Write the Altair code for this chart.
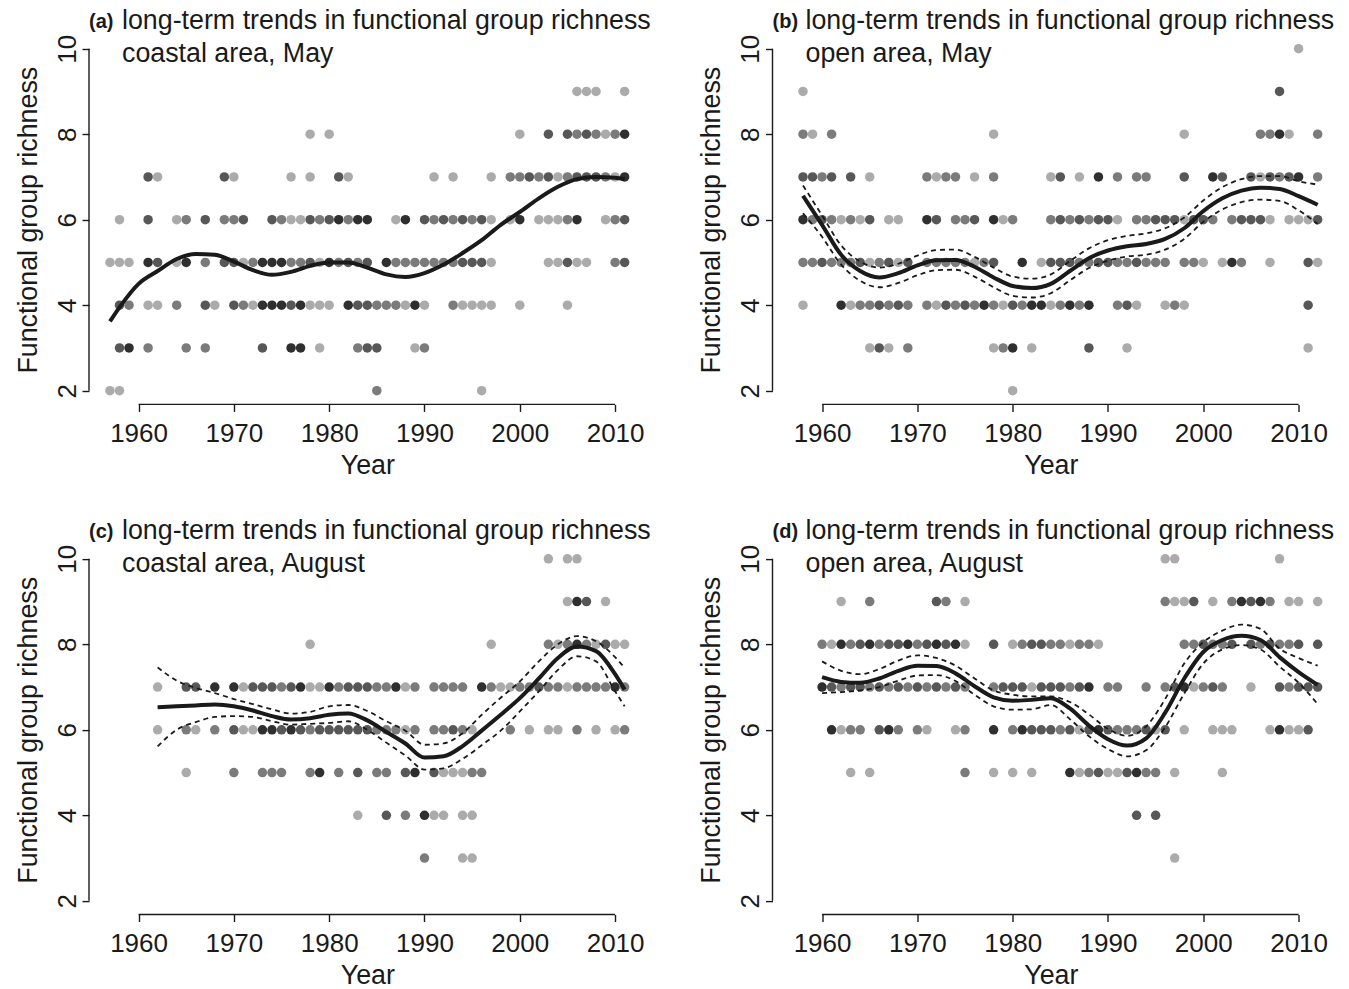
import altair as alt
import pandas as pd

FONT = "Liberation Sans"
INK = "#1a1a1a"

X_TICKS = [1960, 1970, 1980, 1990, 2000, 2010]
Y_TICKS = [2, 4, 6, 8, 10]
X_DOMAIN = [1954.8, 2013.2]
Y_DOMAIN = [1.68, 10.32]

# shade level of each dot: 1 = light ... 4 = darkest
SHADE_LEVELS = [1, 2, 3, 4]
SHADE_COLORS = ["#ababab", "#7b7b7b", "#575757", "#2f2f2f"]

HEADING = "long-term trends in functional group richness"

# ---------------- (a) coastal area, May ----------------
pts_a = {
    9: [(2006, 1), (2007, 1), (2008, 1), (2011, 1)],
    8: [(1978, 1), (1980, 1), (2000, 1), (2003, 3), (2005, 3), (2006, 2), (2007, 3), (2008, 2),
        (2009, 1), (2010, 2), (2011, 4)],
    7: [(1961, 3), (1962, 1), (1969, 3), (1970, 1), (1976, 1), (1978, 1), (1981, 3), (1982, 1),
        (1991, 1), (1993, 1), (1997, 1), (1999, 2), (2000, 2), (2001, 3), (2002, 2), (2003, 3),
        (2004, 1), (2005, 2), (2006, 3), (2007, 3), (2008, 3), (2009, 2), (2010, 1), (2011, 4)],
    6: [(1958, 1), (1961, 3), (1964, 1), (1965, 2), (1967, 3), (1969, 2), (1970, 2), (1971, 3),
        (1974, 3), (1975, 2), (1976, 1), (1977, 1), (1978, 3), (1979, 2), (1980, 3), (1981, 4),
        (1982, 2), (1983, 4), (1984, 4), (1987, 1), (1988, 4), (1990, 3), (1991, 2), (1992, 3),
        (1993, 2), (1994, 3), (1995, 2), (1996, 3), (1997, 1), (1999, 1), (2000, 4), (2002, 1),
        (2003, 1), (2004, 1), (2005, 2), (2006, 4), (2009, 1), (2010, 2), (2011, 3)],
    5: [(1957, 1), (1958, 1), (1959, 1), (1961, 4), (1962, 3), (1964, 1), (1965, 4), (1967, 2),
        (1969, 3), (1970, 3), (1971, 1), (1972, 2), (1973, 4), (1974, 4), (1975, 4), (1976, 2),
        (1977, 2), (1978, 3), (1979, 1), (1980, 4), (1981, 2), (1982, 3), (1983, 2), (1984, 3),
        (1986, 4), (1987, 2), (1988, 2), (1989, 2), (1990, 2), (1991, 2), (1992, 2), (1993, 2),
        (1994, 3), (1995, 3), (1996, 3), (1997, 1), (2003, 1), (2004, 1), (2005, 3), (2006, 1),
        (2007, 1), (2010, 2), (2011, 3)],
    4: [(1958, 3), (1959, 2), (1961, 1), (1962, 1), (1964, 2), (1967, 3), (1968, 1), (1970, 3),
        (1971, 2), (1972, 1), (1973, 4), (1974, 4), (1975, 4), (1976, 3), (1977, 4), (1978, 1),
        (1979, 1), (1980, 1), (1982, 4), (1983, 3), (1984, 3), (1985, 2), (1986, 2), (1987, 2),
        (1988, 1), (1989, 4), (1990, 1), (1993, 2), (1994, 1), (1995, 1), (1996, 1), (1997, 1),
        (2000, 1), (2005, 1)],
    3: [(1958, 3), (1959, 4), (1961, 2), (1965, 2), (1967, 2), (1973, 3), (1976, 4), (1977, 4),
        (1979, 1), (1983, 2), (1984, 3), (1985, 3), (1989, 1), (1990, 2)],
    2: [(1957, 1), (1958, 1), (1985, 2), (1996, 1)],
}
fit_years_a = [1957, 1958, 1960, 1962, 1964, 1966, 1968, 1970, 1972, 1974, 1976, 1978, 1980,
               1982, 1984, 1986, 1988, 1990, 1992, 1994, 1996, 1998, 2000, 2002, 2004, 2006,
               2008, 2010, 2011]
fit_a = [3.62, 3.95, 4.5, 4.8, 5.08, 5.2, 5.18, 5.02, 4.82, 4.71, 4.78, 4.92, 5.0,
         5.0, 4.88, 4.72, 4.66, 4.75, 4.95, 5.22, 5.52, 5.88, 6.18, 6.5, 6.77, 6.95,
         7.0, 6.98, 6.95]

# ---------------- (b) open area, May ----------------
pts_b = {
    10: [(2010, 1)],
    9: [(1958, 1), (2008, 3)],
    8: [(1958, 2), (1959, 1), (1961, 2), (1978, 1), (1998, 1), (2006, 2), (2007, 2), (2008, 4),
        (2009, 1), (2012, 2)],
    7: [(1958, 3), (1959, 3), (1960, 2), (1961, 3), (1963, 3), (1965, 1), (1971, 2), (1972, 1),
        (1973, 2), (1974, 2), (1976, 1), (1978, 2), (1984, 1), (1985, 3), (1987, 1), (1989, 4),
        (1991, 2), (1993, 2), (1994, 2), (1998, 3), (2001, 4), (2002, 3), (2005, 3), (2006, 1),
        (2007, 3), (2008, 2), (2009, 3), (2010, 4), (2012, 2)],
    6: [(1958, 4), (1959, 2), (1960, 3), (1961, 2), (1962, 1), (1963, 2), (1964, 1), (1965, 3),
        (1967, 1), (1968, 1), (1971, 4), (1972, 3), (1974, 2), (1975, 2), (1976, 3), (1978, 4),
        (1979, 1), (1980, 2), (1984, 2), (1985, 3), (1986, 2), (1987, 3), (1988, 2), (1989, 3),
        (1990, 3), (1991, 1), (1993, 2), (1994, 2), (1995, 3), (1996, 3), (1997, 3), (1998, 1),
        (1999, 3), (2000, 3), (2001, 2), (2003, 2), (2004, 3), (2005, 3), (2006, 3), (2007, 1),
        (2009, 1), (2010, 1), (2011, 1), (2012, 3)],
    5: [(1958, 2), (1959, 2), (1960, 3), (1961, 2), (1962, 2), (1963, 2), (1964, 3), (1965, 1),
        (1966, 2), (1967, 3), (1968, 1), (1969, 3), (1971, 2), (1972, 2), (1973, 2), (1974, 2),
        (1975, 2), (1976, 1), (1977, 2), (1978, 3), (1981, 4), (1983, 1), (1984, 3), (1985, 3),
        (1986, 3), (1987, 2), (1988, 2), (1989, 3), (1990, 3), (1991, 2), (1992, 2), (1993, 3),
        (1994, 2), (1995, 2), (1996, 2), (1998, 2), (1999, 2), (2000, 1), (2002, 1), (2003, 4),
        (2004, 2), (2007, 1), (2011, 3), (2012, 1)],
    4: [(1958, 1), (1962, 4), (1963, 1), (1964, 2), (1965, 2), (1966, 3), (1967, 2), (1968, 3),
        (1969, 2), (1971, 2), (1972, 1), (1973, 3), (1974, 2), (1975, 3), (1976, 2), (1977, 4),
        (1978, 2), (1979, 1), (1980, 3), (1981, 2), (1982, 4), (1983, 4), (1984, 1), (1985, 2),
        (1986, 4), (1987, 2), (1988, 4), (1991, 2), (1992, 3), (1993, 1), (1996, 1), (1997, 2),
        (1998, 1), (2011, 3)],
    3: [(1965, 1), (1966, 3), (1967, 1), (1969, 2), (1978, 1), (1979, 2), (1980, 4), (1982, 1),
        (1988, 3), (1992, 1), (2011, 1)],
    2: [(1980, 1)],
}
fit_years_b = [1958, 1960, 1962, 1964, 1966, 1968, 1970, 1972, 1974, 1976, 1978, 1980, 1982,
               1984, 1986, 1988, 1990, 1992, 1994, 1996, 1998, 2000, 2002, 2004, 2006, 2008,
               2010, 2012]
fit_b = [6.56, 5.88, 5.18, 4.8, 4.65, 4.75, 4.93, 5.05, 5.06, 4.9, 4.65, 4.45, 4.4,
         4.5, 4.8, 5.1, 5.28, 5.38, 5.43, 5.55, 5.8, 6.2, 6.5, 6.68, 6.75, 6.72,
         6.55, 6.35]
upper_b = [6.8, 6.1, 5.4, 5.02, 4.88, 4.97, 5.16, 5.29, 5.3, 5.13, 4.88, 4.67, 4.62,
           4.72, 5.03, 5.33, 5.52, 5.62, 5.68, 5.8, 6.05, 6.45, 6.76, 6.95, 7.02, 7.02,
           6.9, 6.82]
lower_b = [6.15, 5.6, 4.95, 4.57, 4.42, 4.52, 4.7, 4.82, 4.83, 4.67, 4.42, 4.22, 4.18,
           4.28, 4.58, 4.87, 5.04, 5.14, 5.18, 5.3, 5.55, 5.95, 6.24, 6.41, 6.47, 6.44,
           6.22, 5.9]

# ---------------- (c) coastal area, August ----------------
pts_c = {
    10: [(2003, 1), (2005, 1), (2006, 1)],
    9: [(2005, 1), (2006, 4), (2007, 3), (2009, 1)],
    8: [(1978, 1), (1997, 1), (2003, 2), (2004, 1), (2005, 2), (2006, 4), (2007, 2), (2008, 1),
        (2009, 3), (2010, 1), (2011, 1)],
    7: [(1962, 1), (1965, 3), (1966, 3), (1968, 4), (1970, 4), (1971, 1), (1972, 3), (1973, 3),
        (1974, 3), (1975, 2), (1976, 3), (1977, 4), (1978, 1), (1979, 1), (1980, 4), (1981, 2),
        (1982, 3), (1983, 3), (1984, 3), (1985, 2), (1986, 2), (1987, 4), (1988, 1), (1989, 2),
        (1991, 2), (1992, 2), (1993, 2), (1994, 2), (1996, 4), (1997, 2), (1998, 1), (1999, 1),
        (2000, 2), (2001, 2), (2002, 3), (2003, 2), (2004, 2), (2005, 1), (2006, 2), (2007, 2),
        (2008, 2), (2009, 2), (2010, 4), (2011, 2)],
    6: [(1962, 1), (1965, 2), (1966, 1), (1968, 2), (1970, 3), (1971, 1), (1972, 1), (1973, 4),
        (1974, 4), (1975, 3), (1976, 4), (1977, 3), (1978, 2), (1979, 3), (1980, 3), (1981, 3),
        (1982, 3), (1983, 3), (1984, 3), (1985, 2), (1986, 2), (1987, 2), (1988, 1), (1989, 2),
        (1991, 2), (1992, 2), (1993, 3), (1994, 2), (1995, 1), (1999, 2), (2001, 1), (2003, 1),
        (2004, 1), (2006, 2), (2008, 1), (2010, 1), (2011, 2)],
    5: [(1965, 1), (1970, 2), (1973, 2), (1974, 2), (1975, 2), (1978, 2), (1979, 4), (1981, 2),
        (1983, 3), (1985, 2), (1986, 2), (1988, 3), (1989, 4), (1991, 3), (1992, 1), (1993, 1),
        (1994, 1), (1995, 2), (1996, 2)],
    4: [(1983, 1), (1986, 3), (1988, 2), (1990, 4), (1991, 1), (1992, 1), (1994, 1), (1995, 1)],
    3: [(1990, 2), (1994, 1), (1995, 1)],
}
fit_years_c = [1962, 1964, 1966, 1968, 1970, 1972, 1974, 1976, 1978, 1980, 1982, 1984, 1986,
               1988, 1990, 1992, 1994, 1996, 1998, 2000, 2002, 2004, 2006, 2008, 2010, 2011]
fit_c = [6.53, 6.55, 6.57, 6.59, 6.55, 6.45, 6.32, 6.24, 6.27, 6.35, 6.38, 6.22, 5.95,
         5.68, 5.35, 5.38, 5.62, 5.98, 6.35, 6.74, 7.2, 7.68, 7.95, 7.84, 7.3, 6.94]
upper_c = [7.46, 7.15, 6.98, 6.86, 6.72, 6.6, 6.48, 6.38, 6.42, 6.55, 6.58, 6.44, 6.2,
           5.98, 5.65, 5.68, 5.92, 6.35, 6.75, 7.13, 7.6, 8.0, 8.19, 8.07, 7.7, 7.45]
lower_c = [5.61, 6.0, 6.18, 6.3, 6.32, 6.3, 6.2, 6.12, 6.14, 6.16, 6.2, 6.0, 5.7,
           5.4, 5.07, 5.1, 5.32, 5.64, 5.98, 6.43, 6.9, 7.4, 7.72, 7.6, 6.9, 6.55]

# ---------------- (d) open area, August ----------------
pts_d = {
    10: [(1996, 1), (1997, 1), (2008, 1)],
    9: [(1962, 1), (1965, 2), (1972, 3), (1973, 2), (1975, 1), (1996, 2), (1997, 1), (1998, 1),
        (1999, 3), (2001, 1), (2003, 2), (2004, 4), (2005, 3), (2006, 4), (2007, 2), (2009, 1),
        (2010, 1), (2012, 1)],
    8: [(1960, 2), (1961, 1), (1962, 4), (1963, 2), (1964, 3), (1965, 4), (1966, 2), (1967, 3),
        (1968, 3), (1969, 4), (1970, 2), (1971, 3), (1972, 4), (1973, 3), (1974, 4), (1975, 1),
        (1978, 3), (1980, 1), (1981, 2), (1982, 3), (1983, 3), (1984, 2), (1985, 2), (1986, 1),
        (1987, 2), (1988, 2), (1989, 1), (1998, 2), (1999, 2), (2000, 3), (2001, 2), (2002, 2),
        (2003, 3), (2005, 3), (2006, 2), (2007, 3), (2008, 2), (2009, 2), (2010, 3), (2012, 3)],
    7: [(1960, 4), (1961, 3), (1962, 2), (1963, 3), (1964, 3), (1965, 2), (1966, 3), (1967, 2),
        (1968, 3), (1969, 2), (1970, 3), (1971, 2), (1972, 3), (1973, 2), (1974, 3), (1975, 2),
        (1978, 2), (1979, 3), (1980, 3), (1981, 3), (1982, 1), (1983, 3), (1984, 3), (1985, 3),
        (1986, 2), (1987, 3), (1988, 4), (1990, 2), (1991, 2), (1994, 2), (1996, 2), (1997, 3),
        (1998, 4), (1999, 1), (2000, 2), (2001, 3), (2002, 2), (2005, 1), (2008, 3), (2009, 2),
        (2010, 3), (2011, 3), (2012, 3)],
    6: [(1961, 4), (1962, 1), (1963, 2), (1964, 2), (1966, 3), (1967, 4), (1968, 2), (1970, 2),
        (1971, 1), (1974, 1), (1975, 2), (1978, 4), (1980, 2), (1981, 4), (1982, 3), (1983, 3),
        (1984, 3), (1985, 2), (1986, 3), (1987, 1), (1988, 3), (1989, 4), (1990, 3), (1991, 2),
        (1992, 2), (1993, 2), (1994, 3), (1995, 1), (1996, 3), (1998, 1), (2001, 1), (2002, 1),
        (2003, 1), (2007, 1), (2008, 4), (2009, 1), (2010, 1), (2011, 3)],
    5: [(1963, 1), (1965, 1), (1975, 2), (1978, 1), (1980, 1), (1982, 1), (1986, 4), (1987, 1),
        (1988, 2), (1989, 3), (1990, 1), (1991, 1), (1992, 3), (1993, 4), (1994, 2), (1995, 2),
        (1997, 1), (2002, 1)],
    4: [(1993, 3), (1995, 3)],
    3: [(1997, 1)],
}
fit_years_d = [1960, 1962, 1964, 1966, 1968, 1970, 1972, 1974, 1976, 1978, 1980, 1982, 1984,
               1986, 1988, 1990, 1992, 1994, 1996, 1998, 2000, 2002, 2004, 2006, 2008, 2010,
               2012]
fit_d = [7.23, 7.12, 7.1, 7.2, 7.38, 7.5, 7.49, 7.32, 7.02, 6.76, 6.68, 6.7, 6.74,
         6.5, 6.1, 5.78, 5.63, 5.8, 6.4, 7.2, 7.82, 8.1, 8.2, 8.1, 7.7, 7.35, 7.05]
upper_d = [7.6, 7.38, 7.3, 7.42, 7.62, 7.74, 7.68, 7.5, 7.2, 6.92, 6.82, 6.78, 6.78,
           6.65, 6.36, 6.02, 5.86, 6.08, 6.72, 7.55, 8.05, 8.32, 8.46, 8.36, 7.9, 7.68, 7.5]
lower_d = [6.86, 6.88, 6.92, 7.0, 7.15, 7.27, 7.28, 7.14, 6.82, 6.55, 6.47, 6.48, 6.58,
           6.25, 5.85, 5.55, 5.38, 5.52, 6.06, 6.85, 7.55, 7.88, 7.98, 7.88, 7.48, 7.1, 6.6]

W, H = 556.6, 369.4

XS = alt.Scale(domain=X_DOMAIN, nice=False, zero=False)
YS = alt.Scale(domain=Y_DOMAIN, nice=False, zero=False)
X_AXIS = alt.Axis(values=X_TICKS, format="d", domain=False, grid=False, tickSize=7,
                  labelPadding=9, labelFontSize=26, title="Year", titlePadding=6,
                  titleFontSize=26.8, labelFlush=False)
Y_AXIS = alt.Axis(values=Y_TICKS, format="d", domain=False, grid=False, tickSize=7,
                  labelAngle=270, labelAlign="center", labelBaseline="bottom",
                  labelPadding=2, labelFontSize=26, title="Functional group richness",
                  titlePadding=12, titleFontSize=26.8, labelFlush=False)


def xenc(field):
    return alt.X(field, scale=XS, axis=X_AXIS)


def yenc(field):
    return alt.Y(field, scale=YS, axis=Y_AXIS)


def panel(tag, subtitle, pts, years, fit, upper=None, lower=None):
    rows = [{"year": y, "richness": r, "shade": s}
            for r, lst in pts.items() for (y, s) in lst]
    pts_df = pd.DataFrame(rows)

    dots = alt.Chart(pts_df).mark_circle(size=90, opacity=1).encode(
        x=xenc("year:Q"),
        y=yenc("richness:Q"),
        color=alt.Color("shade:O", scale=alt.Scale(domain=SHADE_LEVELS, range=SHADE_COLORS),
                        legend=None),
    )
    layers = [dots]

    fit_df = pd.DataFrame({"year": years, "fit": fit})
    if upper is not None:
        fit_df["upper"] = upper
        fit_df["lower"] = lower
        for col in ("upper", "lower"):
            layers.append(
                alt.Chart(fit_df).mark_line(color=INK, strokeWidth=1.8, strokeDash=[5, 4],
                                            interpolate="monotone").encode(
                    x=xenc("year:Q"), y=yenc(f"{col}:Q"))
            )
    layers.append(
        alt.Chart(fit_df).mark_line(color=INK, strokeWidth=4, interpolate="monotone").encode(
            x=xenc("year:Q"), y=yenc("fit:Q"))
    )

    # axis lines spanning only the tick range
    xline = pd.DataFrame({"start": [min(X_TICKS)], "end": [max(X_TICKS)]})
    yline = pd.DataFrame({"lo": [min(Y_TICKS)], "hi": [max(Y_TICKS)]})
    layers.append(alt.Chart(xline).mark_rule(color=INK, strokeWidth=1.4).encode(
        x=xenc("start:Q"), x2="end:Q", y=alt.value(H)))
    layers.append(alt.Chart(yline).mark_rule(color=INK, strokeWidth=1.4).encode(
        y=yenc("lo:Q"), y2="hi:Q", x=alt.value(0)))

    # panel heading
    layers.append(alt.Chart(pd.DataFrame({"t": [tag]})).mark_text(
        align="left", baseline="middle", font=FONT, fontSize=20, fontWeight="bold",
        color=INK).encode(text="t:N", x=alt.value(0), y=alt.value(-13)))
    layers.append(alt.Chart(pd.DataFrame({"t": [HEADING]})).mark_text(
        align="left", baseline="middle", font=FONT, fontSize=26.8, color=INK).encode(
        text="t:N", x=alt.value(33), y=alt.value(-14)))
    layers.append(alt.Chart(pd.DataFrame({"t": [subtitle]})).mark_text(
        align="left", baseline="middle", font=FONT, fontSize=26.8, color=INK).encode(
        text="t:N", x=alt.value(33), y=alt.value(19)))

    return alt.layer(*layers).properties(width=W, height=H)


pa = panel("(a)", "coastal area, May", pts_a, fit_years_a, fit_a)
pb = panel("(b)", "open area, May", pts_b, fit_years_b, fit_b, upper_b, lower_b)
pc = panel("(c)", "coastal area, August", pts_c, fit_years_c, fit_c, upper_c, lower_c)
pd_ = panel("(d)", "open area, August", pts_d, fit_years_d, fit_d, upper_d, lower_d)

chart = alt.concat(
    pa, pb, pc, pd_, columns=2, bounds="flush",
    spacing={"row": 140.1, "column": 126.5},
).properties(
    padding={"left": 15, "top": 8, "right": 5, "bottom": 0}
).configure_view(stroke=None).configure_axis(
    labelFont=FONT, titleFont=FONT, labelColor=INK, titleColor=INK, tickColor=INK,
    tickWidth=1.4, titleFontWeight="normal"
)

chart.save("out.html", embed_options={"renderer": "svg", "actions": False})
